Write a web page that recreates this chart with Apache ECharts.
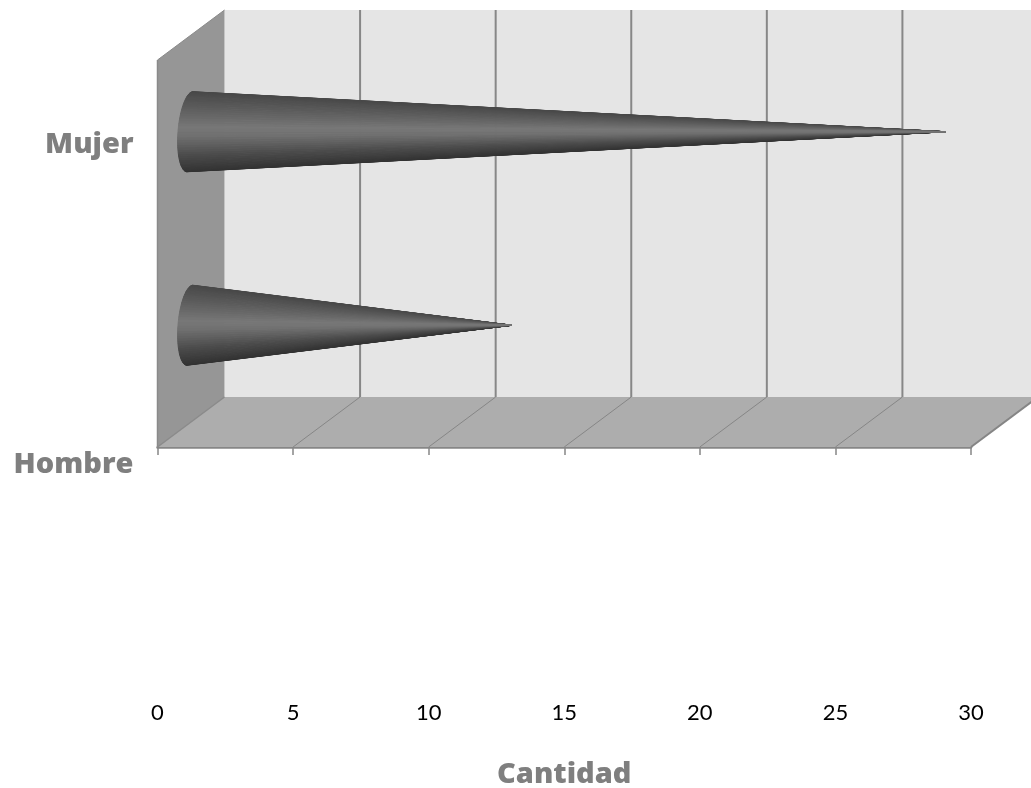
<!DOCTYPE html>
<html><head><meta charset="utf-8">
<style>html,body{margin:0;padding:0;background:#fff}#c{width:1031px;height:788px}</style>
<script src="https://cdn.jsdelivr.net/npm/echarts@6/dist/echarts.min.js"></script>
</head><body><div id="c"></div>
<script>
const categories = ['Hombre', 'Mujer'];
const cantidad = [12, 28];
const axisTicks = [0, 5, 10, 15, 20, 25, 30];
const axisTitle = 'Cantidad';

const DX = 67, DY = -50;
const GRAY = '#7f7f7f';

function renderWalls(params, api) {
  const cs = params.coordSys;
  const l = cs.x, r = cs.x + cs.width, t = cs.y, b = cs.y + cs.height;
  const kids = [];
  const poly = (points, fill) => kids.push({type:'polygon', shape:{points}, style:{fill}});
  const line = (x1,y1,x2,y2,stroke,w) => kids.push({type:'line', shape:{x1,y1,x2,y2}, style:{stroke, lineWidth:w}});
  poly([[l+DX,t+DY],[r+DX,t+DY],[r+DX,b+DY],[l+DX,b+DY]], '#e5e5e5');
  poly([[l,b],[l+DX,b+DY],[r+DX,b+DY],[r,b]], '#adadad');
  poly([[l,t],[l+DX,t+DY],[l+DX,b+DY],[l,b]], '#969696');
  line(l,t,l+DX,t+DY,'#8a8a8a',1);
  line(l,t,l,b,'#8a8a8a',1.5);
  line(l,b,l+DX,b+DY,'#8a8a8a',1.5);
  line(r,b,r+DX,b+DY,'#858585',2);
  axisTicks.forEach(v => {
    const x = api.coord([v, 0])[0];
    if (v > 0 && v < 30) {
      line(x,b,x+DX,b+DY,'#868686',1);
      line(x+DX,b+DY,x+DX,t+DY,'#878787',2);
    }
  });
  return {type:'group', children:kids};
}

function shade(f) {
  const stops = [[0,0x48],[0.2,0x5c],[0.45,0x77],[0.55,0x70],[0.8,0x4a],[1,0x32]];
  for (let i = 1; i < stops.length; i++) {
    if (f <= stops[i][0]) {
      const a = stops[i-1], c = stops[i];
      const g = Math.round(a[1] + (c[1]-a[1])*(f-a[0])/(c[0]-a[0]));
      return 'rgb(' + g + ',' + g + ',' + g + ')';
    }
  }
  return '#323232';
}

function renderCone(params, api) {
  const tipC = api.coord([api.value(0), api.value(1)]);
  const baseC = api.coord([0, api.value(1)]);
  const tip = [tipC[0] + 29, tipC[1] - 25];
  const cx = baseC[0] + 32.5, cy = baseC[1] - 25;
  const rx = 12, ry = 40, tilt = 3, N = 48;
  const slices = [];
  for (let i = 0; i < N; i++) {
    const a0 = -Math.PI/2 + Math.PI*i/N, a1 = -Math.PI/2 + Math.PI*(i+1)/N;
    const p0 = [cx - rx*Math.cos(a0) - tilt*Math.sin(a0), cy + ry*Math.sin(a0)];
    const p1 = [cx - rx*Math.cos(a1) - tilt*Math.sin(a1), cy + ry*Math.sin(a1)];
    const f = ((p0[1] + p1[1])/2 - (cy-ry))/(2*ry);
    slices.push({f, p0, p1});
  }
  // paint from the dark edges towards the highlight
  slices.sort((a,b) => Math.abs(b.f-0.47) - Math.abs(a.f-0.47));
  const kids = slices.map(s => {
    const col = shade(s.f);
    return {type:'polygon', shape:{points:[s.p0,s.p1,tip]}, style:{fill:col, stroke:col, lineWidth:1, lineJoin:'bevel'}};
  });
  return {type:'group', children:kids};
}

const option = {
  animation:false,
  backgroundColor:'#ffffff',
  grid:[
    {left:157.5, top:60, width:813.5, height:387, containLabel:false, outerBoundsMode:'none'},
    {left:157.5, top:145, width:813.5, height:320, containLabel:false, outerBoundsMode:'none'}
  ],
  xAxis:[
    {gridIndex:0, type:'value', min:0, max:30, interval:5,
     axisLine:{show:true, lineStyle:{color:'#868686', width:2.5}},
     axisTick:{show:true, length:8, lineStyle:{color:'#868686', width:1.5}},
     splitLine:{show:false},
     axisLabel:{margin:255, color:'#000000', fontFamily:'Lato', fontSize:22, hideOverlap:false},
     name:axisTitle, nameLocation:'middle', nameGap:313,
     nameTextStyle:{color:GRAY, fontFamily:'Open Sans', fontWeight:800, fontSize:29}},
    {gridIndex:1, type:'value', min:0, max:30, show:false}
  ],
  yAxis:[
    {gridIndex:0, type:'category', data:categories, show:false},
    {gridIndex:1, type:'category', data:categories, boundaryGap:false,
     axisLine:{show:false}, axisTick:{show:false}, splitLine:{show:false},
     axisLabel:{show:true, margin:24, interval:0, color:GRAY, fontFamily:'Open Sans', fontWeight:800, fontSize:29, align:'right'}}
  ],
  series:[
    {type:'custom', xAxisIndex:0, yAxisIndex:0, clip:false, silent:true, z:1,
     renderItem:renderWalls, data:[[0,0]], encode:{x:0,y:1}},
    {type:'custom', xAxisIndex:0, yAxisIndex:0, clip:false, silent:true, z:3,
     renderItem:renderCone, data:cantidad.map((v,i)=>[v,i]), encode:{x:0,y:1}}
  ]
};
echarts.init(document.getElementById('c'), null, {renderer:'canvas'}).setOption(option);
</script></body></html>
